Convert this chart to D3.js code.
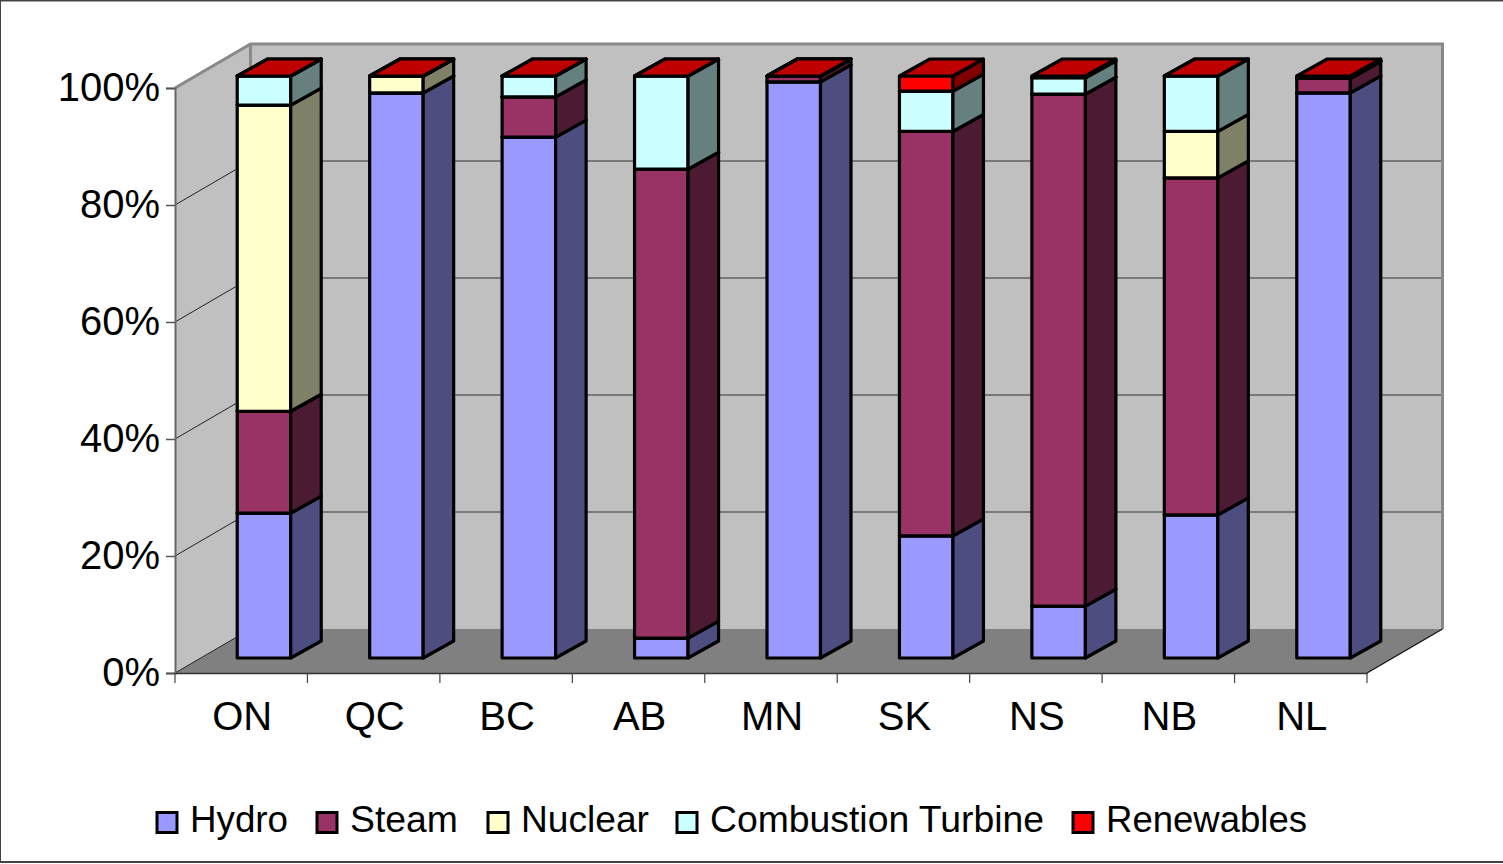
<!DOCTYPE html>
<html>
<head>
<meta charset="utf-8">
<title>Generation mix by province</title>
<style>
	html, body { margin: 0; padding: 0; background: #fff; }
	svg { display: block; }
	text { font-family: "Liberation Sans", Arial, sans-serif; fill: #000; }
</style>
<script src="https://cdn.jsdelivr.net/npm/d3@7"></script>
</head>
<body>
<svg width="1503" height="864"></svg>
<script>
var categories = ['ON', 'QC', 'BC', 'AB', 'MN', 'SK', 'NS', 'NB', 'NL'];
var hydro =      [24.9, 97.1, 89.5,  3.4, 99.0, 21.0,  8.9, 24.6, 97.1];
var steam =      [17.5,  0.0,  6.9, 80.6,  1.0, 69.5, 88.0, 57.9,  2.5];
var nuclear =    [52.6,  2.9,  0.0,  0.0,  0.0,  0.0,  0.0,  8.0,  0.0];
var combustion = [ 5.0,  0.0,  3.6, 16.0,  0.0,  6.9,  2.8,  9.5,  0.0];
var renewables = [ 0.0,  0.0,  0.0,  0.0,  0.0,  2.6,  0.3,  0.0,  0.4];
var seriesNames = ['Hydro', 'Steam', 'Nuclear', 'Combustion Turbine', 'Renewables'];
var seriesValues = [hydro, steam, nuclear, combustion, renewables];
var seriesColors = ['#9999ff', '#993366', '#ffffcc', '#ccffff', '#ff0000'];
var yTicks = [0, 20, 40, 60, 80, 100];
var legendLefts = [157, 317, 488, 677, 1073];
var legendTextWidths = [98, 108, 128, 334, 201];

var svg = d3.select('svg');

var plot = {left: 175, right: 1367, top: 88, bottom: 673, dx: 75.5, dy: -44};

var x = d3.scaleBand().domain(categories).range([plot.left, plot.right]);
var y = d3.scaleLinear().domain([0, 100]).range([plot.bottom, plot.top]);

// bars stand a little way into the floor, so they have their own vertical scale
var yBar = d3.scaleLinear().domain([0, 100]).range([658, 76]);
var barWidth = 53.5;
var barShift = 22.75;
var sideX = 30.5, sideY = -17;

function pts(list) {
	return list.map(function(p) { return p.join(','); }).join(' ');
}

// frame: top, left and bottom only, the right side is open
var frame = svg.append('g').attr('stroke', '#444').attr('stroke-width', 2);
frame.append('line').attr('x1', 0).attr('x2', 1503).attr('y1', 0.5).attr('y2', 0.5);
frame.append('line').attr('x1', 0).attr('x2', 0).attr('y1', 0).attr('y2', 862);
frame.append('line').attr('x1', 0).attr('x2', 1503).attr('y1', 862).attr('y2', 862);

// walls and floor
var l = plot.left, r = plot.right, t = plot.top, b = plot.bottom, dx = plot.dx, dy = plot.dy;
var walls = svg.append('g');
walls.append('polygon')
	.attr('points', pts([[l + dx, t + dy], [r + dx, t + dy], [r + dx, b + dy], [l + dx, b + dy]]))
	.attr('fill', '#c0c0c0');
walls.append('polygon')
	.attr('points', pts([[l, t], [l + dx, t + dy], [l + dx, b + dy], [l, b]]))
	.attr('fill', '#c0c0c0');
walls.append('polygon')
	.attr('points', pts([[l, b], [r, b], [r + dx, b + dy], [l + dx, b + dy]]))
	.attr('fill', '#808080');

// grid lines, back wall and left wall
yTicks.filter(function(d) { return d > 0 && d < 100; }).forEach(function(d) {
	walls.append('line')
		.attr('x1', l + dx).attr('x2', r + dx)
		.attr('y1', y(d) + dy).attr('y2', y(d) + dy)
		.attr('stroke', '#333').attr('stroke-width', 1.2);
});
yTicks.filter(function(d) { return d < 100; }).forEach(function(d) {
	walls.append('line')
		.attr('x1', l).attr('x2', l + dx)
		.attr('y1', y(d)).attr('y2', y(d) + dy)
		.attr('stroke', '#222').attr('stroke-width', 1);
});

// wall outline
walls.append('polyline')
	.attr('points', pts([[l, t], [l + dx, t + dy], [r + dx, t + dy], [r + dx, b + dy]]))
	.attr('fill', 'none').attr('stroke', '#888').attr('stroke-width', 3);
walls.append('line')
	.attr('x1', l + dx).attr('x2', l + dx).attr('y1', t + dy).attr('y2', b + dy)
	.attr('stroke', '#888').attr('stroke-width', 3);
walls.append('line')
	.attr('x1', r).attr('x2', r + dx).attr('y1', b).attr('y2', b + dy)
	.attr('stroke', '#111').attr('stroke-width', 1.3);

// stacked columns
var rows = categories.map(function(c, i) {
	var row = {name: c};
	seriesNames.forEach(function(s, k) { row[s] = seriesValues[k][i]; });
	return row;
});
var stacked = d3.stack().keys(seriesNames)(rows);

function shade(color, k) {
	var c = d3.rgb(color);
	return d3.rgb(c.r * k, c.g * k, c.b * k).formatHex();
}

var bars = svg.append('g')
	.attr('stroke', '#000')
	.attr('stroke-width', 3.2)
	.attr('stroke-linejoin', 'round');

categories.forEach(function(c, i) {
	var x0 = x(c) + (x.bandwidth() - barWidth) / 2 + barShift;
	var x1 = x0 + barWidth;
	stacked.forEach(function(layer, k) {
		var y0 = yBar(layer[i][0]), y1 = yBar(layer[i][1]);
		bars.append('polygon')
			.attr('points', pts([[x0, y0], [x1, y0], [x1, y1], [x0, y1]]))
			.attr('fill', seriesColors[k]);
		bars.append('polygon')
			.attr('points', pts([[x1, y0], [x1 + sideX, y0 + sideY], [x1 + sideX, y1 + sideY], [x1, y1]]))
			.attr('fill', shade(seriesColors[k], 0.5));
		bars.append('polygon')
			.attr('points', pts([[x0, y1], [x1, y1], [x1 + sideX, y1 + sideY], [x0 + sideX, y1 + sideY]]))
			.attr('fill', shade(seriesColors[k], 0.75));
	});
});

// axes
var yAxis = svg.append('g')
	.attr('transform', 'translate(' + l + ',0)')
	.call(d3.axisLeft(y).tickValues(yTicks).tickSize(9).tickPadding(6)
		.tickFormat(function(d) { return d + '%'; }));
yAxis.selectAll('text').attr('font-size', 40).attr('dy', '0.32em');
yAxis.select('.domain').attr('stroke', '#666').attr('stroke-width', 2);
yAxis.selectAll('.tick line').attr('stroke', '#555').attr('stroke-width', 1.5);

var xAxis = svg.append('g')
	.attr('transform', 'translate(0,' + b + ')')
	.call(d3.axisBottom(x).tickSize(0).tickPadding(29));
xAxis.selectAll('text').attr('font-size', 40).attr('dy', '0.71em').attr('dx', 1);
xAxis.select('.domain').attr('stroke', '#333').attr('stroke-width', 1.5);
d3.range(categories.length + 1).forEach(function(i) {
	xAxis.append('line')
		.attr('x1', l + i * x.step()).attr('x2', l + i * x.step())
		.attr('y1', 0).attr('y2', 10)
		.attr('stroke', '#444').attr('stroke-width', 1.2);
});

// legend
var legend = svg.append('g');
seriesNames.forEach(function(s, k) {
	legend.append('rect')
		.attr('x', legendLefts[k]).attr('y', 812.5)
		.attr('width', 20).attr('height', 20)
		.attr('fill', seriesColors[k])
		.attr('stroke', '#000').attr('stroke-width', 3);
	legend.append('text')
		.attr('x', legendLefts[k] + 33).attr('y', 832)
		.attr('font-size', 36)
		.attr('textLength', legendTextWidths[k])
		.attr('lengthAdjust', 'spacingAndGlyphs')
		.text(s);
});
</script>
</body>
</html>
